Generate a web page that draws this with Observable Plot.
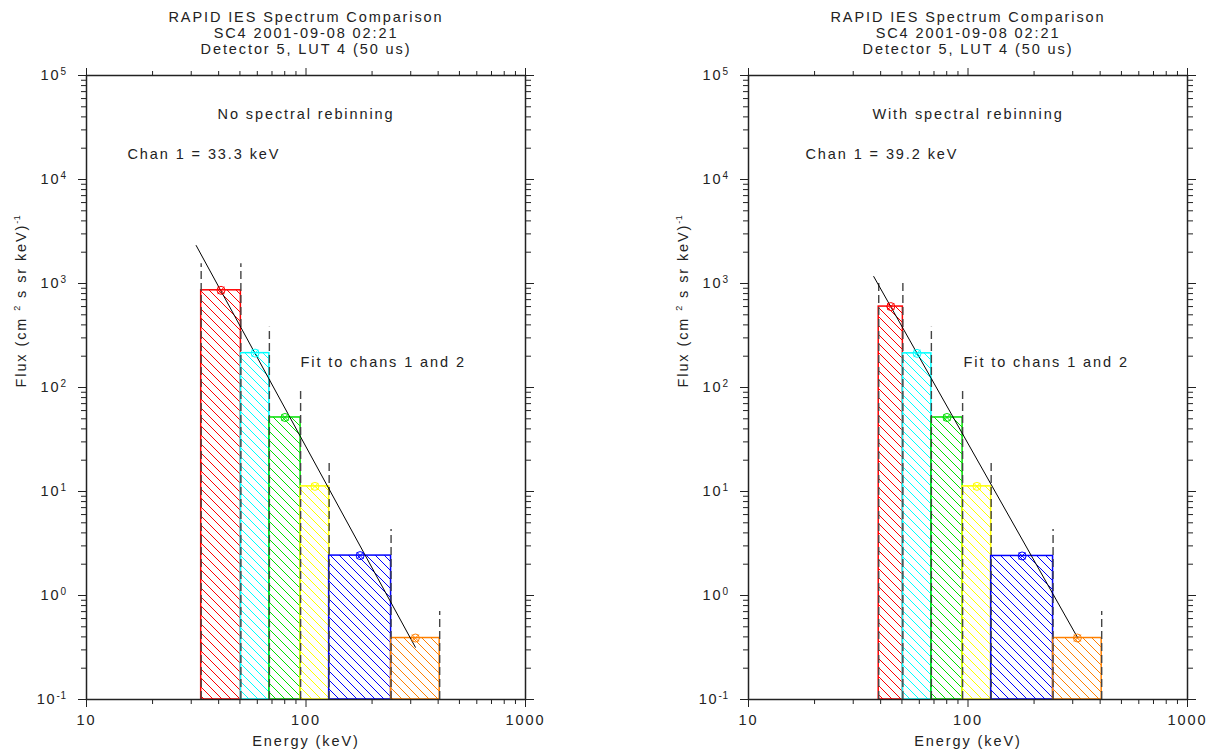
<!DOCTYPE html>
<html><head><meta charset="utf-8">
<script src="https://cdn.jsdelivr.net/npm/d3@7"></script>
<script src="https://cdn.jsdelivr.net/npm/@observablehq/plot@0.6"></script>
<style>
body{margin:0;background:#fff;}
#wrap{position:relative;width:1213px;height:751px;overflow:hidden;}
#wrap svg{position:absolute;top:0;}
</style></head><body><div id="wrap"></div>
<script>
// ---- data ----
const titleLines = ["RAPID IES Spectrum Comparison", "SC4 2001-09-08 02:21", "Detector 5, LUT 4 (50 us)"];
const channelColors = ["#ff0000", "#00ffff", "#00e000", "#ffff00", "#0000ff", "#ff8000"];

// channel energy edges (keV)
const edgesNoRebin = [33.3, 50.5, 68.1, 94.5, 127.5, 244.1, 406.5];
const edgesRebin   = [39.2, 50.5, 68.1, 94.5, 127.5, 244.1, 406.5];
// marker energies (keV)
const pointsNoRebin = [41.0, 58.6, 80.2, 109.8, 176.4, 315];
const pointsRebin   = [44.5, 58.6, 80.2, 109.8, 176.4, 315];
// flux (bar tops)
const fluxNoRebin = [860, 214, 51.5, 11.2, 2.42, 0.39];
const fluxRebin   = [600, 213, 51.5, 11.2, 2.40, 0.39];
// dashed upper levels
const dashNoRebin = [1546, 380, 91.5, 20.2, 4.31, 0.70];
const dashRebin   = [1069, 380, 91.5, 20.2, 4.31, 0.70];
// fit line end points
const fitENoRebin = [31.6, 315];
const fitFluxNoRebin = [2318, 0.318];
const fitERebin = [37.2, 316];
const fitFluxRebin = [1167, 0.392];

const xTicks = [10, 100, 1000];
const xMinor = [20, 30, 40, 50, 60, 70, 80, 90, 200, 300, 400, 500, 600, 700, 800, 900];
const yTicks = [0.1, 1, 10, 100, 1000, 10000, 100000];
const yDecades = [0.1, 1, 10, 100, 1000, 10000];
const yMantissas = [2, 3, 4, 5, 6, 7, 8, 9];
const yMinor = yDecades.flatMap(d => yMantissas.map(m => +(d * m).toPrecision(3)));

const ink = "#222";

function drawPanel(cfg) {
  const bars = cfg.flux.map((f, i) => ({
    lo: cfg.edges[i], hi: cfg.edges[i + 1], f, top: cfg.dash[i], mid: cfg.points[i], color: channelColors[i], i
  }));
  const dashes = bars.flatMap((b, i) => i === 0 ? [{x: b.lo, top: b.top}, {x: b.hi, top: b.top}] : [{x: b.hi, top: b.top}]);
  const fit = cfg.fitE.map((e, i) => ({e, f: cfg.fitFlux[i]}));

  const svg = Plot.plot({
    width: cfg.width, height: 751,
    marginLeft: cfg.marginLeft, marginRight: cfg.marginRight, marginTop: 75, marginBottom: 52,
    style: {fontFamily: '"Liberation Sans", Arial, sans-serif', fontSize: "14.5px", letterSpacing: "1.9px",
            background: "transparent", overflow: "visible", color: ink},
    x: {type: "log", domain: [10, 1000]},
    y: {type: "log", domain: [0.1, 1e5]},
    marks: [
      ...bars.map(b => Plot.rect([b], {x1: "lo", x2: "hi", y1: 0.1, y2: "f",
        fill: `url(#${cfg.id}-h${b.i})`, stroke: b.color, strokeWidth: 1.5})),
      Plot.ruleX(dashes, {x: "x", y1: 0.1, y2: "top", stroke: "#444", strokeWidth: 1.4, strokeDasharray: "8,4"}),
      Plot.line(fit, {x: "e", y: "f", stroke: "#000", strokeWidth: 1}),
      ...bars.map(b => Plot.dot([b], {x: "mid", y: "f", r: 4, stroke: b.color, strokeWidth: 1, fill: "none"})),
      ...bars.map(b => Plot.dot([b], {x: "mid", y: "f", r: 3.2, symbol: "times", stroke: b.color, strokeWidth: 1})),
      Plot.frame({stroke: ink, strokeWidth: 1.5}),
      Plot.axisX({anchor: "bottom", ticks: xTicks, tickSize: 8, tickPadding: 7, tickFormat: d => String(d), label: null, stroke: ink, fill: ink}),
      Plot.axisX({anchor: "bottom", ticks: xMinor, tickSize: 5, fill: "none", label: null, stroke: ink}),
      Plot.axisX({anchor: "top", ticks: xTicks, tickSize: 8, fill: "none", label: null, stroke: ink}),
      Plot.axisX({anchor: "top", ticks: xMinor, tickSize: 5, fill: "none", label: null, stroke: ink}),
      Plot.axisY({anchor: "left", ticks: yTicks, tickSize: 8, tickPadding: 12, tickFormat: d => "10^" + Math.round(Math.log10(d)), label: null, stroke: ink, fill: ink}),
      Plot.axisY({anchor: "left", ticks: yMinor, tickSize: 5, fill: "none", label: null, stroke: ink}),
      Plot.axisY({anchor: "right", ticks: yTicks, tickSize: 8, fill: "none", label: null, stroke: ink}),
      Plot.axisY({anchor: "right", ticks: yMinor, tickSize: 5, fill: "none", label: null, stroke: ink}),
      Plot.text([titleLines.join("\n")], {text: d => d, frameAnchor: "top", lineAnchor: "middle", dy: -43, lineHeight: 1.1, fill: ink}),
      Plot.text([cfg.heading], {text: d => d, frameAnchor: "top", lineAnchor: "middle", dy: 39, fill: ink}),
      Plot.text([cfg.chanLabel], {text: d => d, frameAnchor: "top-left", lineAnchor: "middle", textAnchor: "start", dx: cfg.chanDx, dy: 79, fill: ink}),
      Plot.text(["Fit to chans 1 and 2"], {text: d => d, frameAnchor: "top-left", lineAnchor: "middle", textAnchor: "start", dx: cfg.fitDx, dy: 287, fill: ink}),
      Plot.text(["Energy (keV)"], {text: d => d, frameAnchor: "bottom", lineAnchor: "middle", dy: 42, fill: ink}),
      Plot.text(["Flux (cm ² s sr keV)⁻¹"], {text: d => d, frameAnchor: "left", lineAnchor: "middle", rotate: -90, dx: -65, fill: ink})
    ]
  });

  const s = d3.select(svg);
  // hatch patterns
  const defs = s.insert("defs", ":first-child");
  channelColors.forEach((c, i) => {
    const p = defs.append("pattern").attr("id", `${cfg.id}-h${i}`)
      .attr("patternUnits", "userSpaceOnUse").attr("width", 9).attr("height", 9);
    p.append("path").attr("d", "M-1,-1L10,10M-2,7L2,11M7,-2L11,2")
      .attr("stroke", c).attr("stroke-width", 1).attr("fill", "none");
  });
  // superscripts
  s.selectAll("text").each(function () {
    const t = this.textContent;
    const m = /^10\^(-?\d+)$/.exec(t);
    if (m) {
      const el = d3.select(this);
      el.text("10");
      el.append("tspan").attr("dy", "-5").attr("font-size", "10px").attr("letter-spacing", "0.5px").text(m[1]);
    } else if (t.startsWith("Flux (cm")) {
      const el = d3.select(this);
      el.text(null);
      el.append("tspan").text("Flux (cm ");
      el.append("tspan").attr("dy", "-6").attr("font-size", "9px").text("2");
      el.append("tspan").attr("dy", "6").text(" s sr keV)");
      el.append("tspan").attr("dy", "-6").attr("font-size", "9px").attr("letter-spacing", "0.5px").text("-1");
    }
  });
  svg.style.left = cfg.left + "px";
  document.getElementById("wrap").appendChild(svg);
}

drawPanel({id: "p1", left: 0, width: 607, marginLeft: 86, marginRight: 82,
  edges: edgesNoRebin, points: pointsNoRebin, flux: fluxNoRebin, dash: dashNoRebin,
  fitE: fitENoRebin, fitFlux: fitFluxNoRebin,
  heading: "No spectral rebinning", chanLabel: "Chan 1 = 33.3 keV", chanDx: 41, fitDx: 214});
drawPanel({id: "p2", left: 607, width: 606, marginLeft: 141, marginRight: 26,
  edges: edgesRebin, points: pointsRebin, flux: fluxRebin, dash: dashRebin,
  fitE: fitERebin, fitFlux: fitFluxRebin,
  heading: "With spectral rebinning", chanLabel: "Chan 1 = 39.2 keV", chanDx: 57, fitDx: 215});
</script></body></html>
